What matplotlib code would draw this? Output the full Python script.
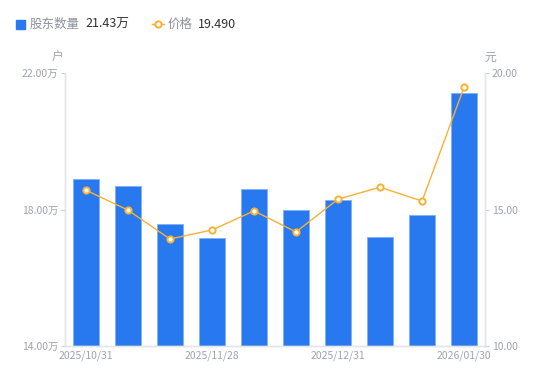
import matplotlib.pyplot as plt
from matplotlib.lines import Line2D

plt.rcParams['font.family'] = ['Noto Sans CJK SC', 'DejaVu Sans']

daty = ['2025/10/31', '2025/11/10', '2025/11/20', '2025/11/28', '2025/12/10',
        '2025/12/19', '2025/12/31', '2026/01/09', '2026/01/20', '2026/01/30']
akcjonariusze = [18.89, 18.69, 17.57, 17.16, 18.60, 17.98, 18.28, 17.19, 17.84, 21.43]  # 万户
cena = [15.71, 14.98, 13.92, 14.25, 14.95, 14.18, 15.38, 15.82, 15.31, 19.49]
pokaz_etykiety = [0, 3, 6, 9]

niebieski = '#2878f0'
pomaranczowy = '#f8b133'
szary = '#a0a3b1'
linia = '#e3e5ea'

fig = plt.figure(figsize=(5.5, 3.81), dpi=100)
ax = fig.add_axes([0.118, 0.092, 0.764, 0.716])
ax2 = ax.twinx()

x = list(range(len(daty)))
ax.bar(x, akcjonariusze, width=0.6, bottom=0, color=niebieski,
       edgecolor='#7fb0f7', linewidth=0.6, zorder=2)
ax.set_ylim(14, 22)
ax.set_xlim(-0.5, len(daty) - 0.5)
ax.set_yticks([14, 18, 22])
ax.set_yticklabels(['%.2f万' % v for v in [14, 18, 22]])

ax2.plot(x, cena, color=pomaranczowy, linewidth=1, marker='o', markersize=4.5,
         markerfacecolor='white', markeredgecolor=pomaranczowy, markeredgewidth=1.4, zorder=3)
ax2.set_ylim(10, 20)
ax2.set_yticks([10, 15, 20])
ax2.set_yticklabels(['%.2f' % v for v in [10, 15, 20]])

ax.set_xticks([x[i] for i in pokaz_etykiety])
ax.set_xticklabels([daty[i] for i in pokaz_etykiety])

for a in (ax, ax2):
    for s in a.spines.values():
        s.set_color(linia)
        s.set_linewidth(1)
    a.spines['top'].set_visible(False)
    a.tick_params(colors=szary, labelsize=7.5, length=3, width=0.8)
    a.tick_params(axis='y', color='#c9ccd4')
ax.tick_params(axis='x', length=0, pad=3)
ax2.tick_params(axis='y', pad=2)
ax.tick_params(axis='y', pad=2)

fig.text(58 / 550, 1 - 57 / 381, '户', color=szary, fontsize=8.5, ha='center', va='center')
fig.text(490 / 550, 1 - 57 / 381, '元', color=szary, fontsize=8.5, ha='center', va='center')

# legenda na gorze
ly = 1 - 24 / 381
fig.patches.append(plt.Rectangle((16 / 550, 1 - 29 / 381), 9 / 550, 9 / 381,
                                 transform=fig.transFigure, color=niebieski, figure=fig))
fig.text(30 / 550, ly, '股东数量', color='#8e909c', fontsize=9, va='center')
fig.text(85 / 550, ly, '21.43万', color='#333333', fontsize=9, va='center')
fig.lines.append(Line2D([152 / 550, 164 / 550], [ly, ly], transform=fig.transFigure,
                        color=pomaranczowy, linewidth=1, marker='o', markevery=[0],
                        markersize=0, figure=fig))
fig.lines.append(Line2D([158 / 550], [ly], transform=fig.transFigure, color=pomaranczowy,
                        marker='o', markersize=4.5, markerfacecolor='white',
                        markeredgewidth=1.4, figure=fig))
fig.text(168 / 550, ly, '价格', color='#8e909c', fontsize=9, va='center')
fig.text(198 / 550, ly, '19.490', color='#333333', fontsize=9, va='center')

plt.savefig('out.png', dpi=100)
